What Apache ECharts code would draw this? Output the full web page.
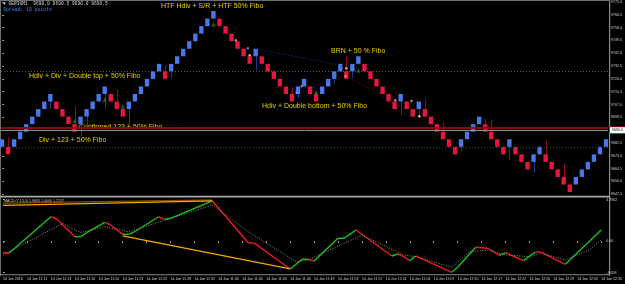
<!DOCTYPE html>
<html><head><meta charset="utf-8">
<script src="https://cdn.jsdelivr.net/npm/echarts@6/dist/echarts.min.js"></script>
<style>html,body{margin:0;padding:0;background:#000;}#c{width:625px;height:284px;}</style>
</head><body><div id="c"></div>
<script>
// ---- Renko bricks (open / close), one per bar index ----
const brickOpen = [9679,9679,9679,9684,9689,9694,9699,9704,9709,9709,9704,9699,9694,9694,9699,9704,9709,9714,9714,9709,
  9704,9704,9709,9714,9719,9724,9729,9729,9729,9734,9739,9744,9749,9754,9759,9764,9764,9759,9754,9749,
  9744,9739,9739,9739,9734,9729,9724,9719,9714,9714,9719,9719,9714,9714,9719,9724,9729,9729,9729,9734,
  9734,9729,9724,9719,9714,9709,9709,9709,9704,9704,9704,9699,9694,9689,9684,9679,9679,9684,9689,9694,
  9694,9689,9684,9679,9679,9679,9674,9669,9669,9674,9674,9669,9664,9659,9654,9654,9659,9664,9669,9674,9679];
const brickClose = [9684,9674,9684,9689,9694,9699,9704,9709,9714,9704,9699,9694,9689,9699,9704,9709,9714,9719,9709,9704,
  9699,9709,9714,9719,9724,9729,9734,9724,9734,9739,9744,9749,9754,9759,9764,9769,9759,9754,9749,9744,
  9739,9734,9744,9734,9729,9724,9719,9714,9709,9719,9724,9714,9709,9719,9724,9729,9734,9724,9734,9739,
  9729,9724,9719,9714,9709,9704,9714,9704,9699,9709,9699,9694,9689,9684,9679,9674,9684,9689,9694,9699,
  9689,9684,9679,9674,9684,9674,9669,9664,9674,9679,9669,9664,9659,9654,9649,9659,9664,9669,9674,9679,9684];
// wick extremes [barIndex, price]
const wickHigh = [[1,9685],[12,9706],[19,9717],[27,9733],[48,9718.5],[57,9739],[70,9711],[73,9695],[80,9698],[81,9697],[90,9683],[93,9668]];
const wickLow  = [[8,9704],[13,9686],[14,9693.5],[17,9705],[21,9694],[28,9724.5],[42,9730],[49,9711],[55,9721],[58,9725],[66,9700],[69,9698],[76,9676],[84,9670],[88,9662]];

// ---- horizontal levels ----
const levelDottedGray = 9729;
const levelRed = 9691.5;
const levelBid = 9690.0;
const levelDottedTeal = 9679;

// ---- trend lines on price [barIndex, price] ----
const trendBlue1 = [[42,9744],[56,9733]];
const trendBlue2 = [[49,9713],[55,9725]];
const trendRed = [[57,9726],[69,9699]];

// ---- small signal markers ----
const greenArrows = [[12,9697.6],[17,9711.6],[20,9707],[35,9761.6],[52,9716.5],[59,9731.1]];
const pinkDots = [[38.7,9749.6],[56.9,9725.8],[65.1,9709.9],[67.8,9709.3]];
const blueDots = [[40.7,9744.3],[48.8,9714.6],[49.6,9719.2]];
const yellowDots = [[41,9739.7],[57,9731.1],[69.1,9699.3]];

// ---- MACD main line vertices ----
const macdIdx = [0,1,8,9,12,13,14,17,18,20,21,22,26,27,28,35,41,42,48,50,51,52,56,57,59,65,66,67,68,69,75,76,79,81,83,84,87,89,90,94,100];
const macdVal = [-1.35,-1.42,2.80,2.54,0.50,0.50,0.96,2.16,1.85,0.77,0.77,1.07,2.80,2.50,2.62,4.62,-0.20,-0.25,-3.23,-2.11,-2.11,-2.31,0.31,0.31,1.27,-1.73,-1.50,-1.81,-2.27,-1.73,-3.61,-3.03,-0.73,-0.84,-1.65,-1.35,-2.27,-1.27,-1.30,-2.69,1.27];
// ---- MACD signal line vertices ----
const sigIdx = [0,10,13,17,21,26,35,41,49,51,60,67,69,75,78,81,84,88,90,94,98,100];
const sigVal = [-1.62,2.04,0.96,1.65,1.07,2.16,4.15,1.07,-2.39,-2.19,0.69,-1.62,-1.81,-3.03,-1.23,-1.04,-1.62,-1.81,-1.42,-2.19,-1.04,0.12];
// ---- divergence lines on MACD ----
const divTop = [[0,4.12],[35,4.62]];
const divTopShadow = [[0,4.38],[35,4.75]];
const divBottom = [[20,0.58],[48,-3.23]];

// ---- axis labels ----
const priceMin = 9647.5, priceMax = 9775.0, priceStep = 8.5;
const macdMin = -3.66, macdMax = 4.79;
const macdLabels = ['-3.658','0.00','4.7902'];
const timeLabels = ["14 Jan 2016","14 Jan 11:11","14 Jan 11:13","14 Jan 11:16","14 Jan 11:20","14 Jan 11:23","14 Jan 11:25","14 Jan 11:28","14 Jan 11:31","14 Jan 11:36","14 Jan 11:40","14 Jan 11:43","14 Jan 11:46","14 Jan 11:49","14 Jan 11:53","14 Jan 11:57","14 Jan 12:01","14 Jan 12:04","14 Jan 12:07","14 Jan 12:10","14 Jan 12:17","14 Jan 12:22","14 Jan 12:26","14 Jan 12:29","14 Jan 12:32","14 Jan 12:35"];
const timeStep = 4;

// ---- annotations ----
const notes = [
  ["HTF Hdiv + S/R + HTF 50% Fibo", 161, 6],
  ["Hdiv + Div + Double top + 50% Fibo", 29, 76],
  ["BRN + 50 % Fibo", 331, 51],
  ["Hdiv + Double bottom + 50% Fibo", 262, 106],
  ["Confirmed 123 + 50% Fibo", 79, 127],
  ["Div + 123 + 50% Fibo", 39, 140]
];

// ================= build =================
const xMin = -0.17, xMax = 100.33;
const brickData = brickOpen.map((o,i)=>[i,o,brickClose[i],Math.min(o,brickClose[i]),Math.max(o,brickClose[i])]);
wickLow.forEach(([i,v])=>{brickData[i][3]=v;});
wickHigh.forEach(([i,v])=>{brickData[i][4]=v;});

const macdSegs = [];
for (let k=0;k<macdIdx.length-1;k++) macdSegs.push([macdIdx[k],macdVal[k],macdIdx[k+1],macdVal[k+1]]);

const timeTicks = timeLabels.map((_,k)=>k*timeStep);
const FONT = 'Liberation Sans';

const chart = echarts.init(document.getElementById('c'), null, {renderer:'canvas'});
const option = {
  backgroundColor:'#000',
  animation:false,
  grid:[
    {left:1, right:16, top:1.7, height:192.6},
    {left:1, right:16, top:199.5, height:73.2}
  ],
  xAxis:[
    {type:'value', gridIndex:0, min:xMin, max:xMax, show:false},
    {type:'value', gridIndex:1, min:xMin, max:xMax,
      axisLine:{show:false}, splitLine:{show:false},
      axisTick:{show:true, customValues:timeTicks, length:2, lineStyle:{color:'#9a9a9a'}},
      axisLabel:{customValues:timeTicks, formatter:v=>timeLabels[Math.round(v/timeStep)], fontSize:3.6, color:'#d0d0d0', fontFamily:FONT, align:'left', margin:4, hideOverlap:false}}
  ],
  yAxis:[
    {type:'value', gridIndex:0, position:'right', min:priceMin, max:priceMax, interval:priceStep,
      axisLine:{show:false}, splitLine:{show:false},
      axisTick:{show:true, length:2, lineStyle:{color:'#9a9a9a'}},
      axisLabel:{fontSize:3.6, color:'#d0d0d0', fontFamily:FONT, margin:3, formatter:v=>v.toFixed(1)}},
    {type:'value', gridIndex:1, position:'right', min:macdMin, max:macdMax,
      axisLine:{show:false}, splitLine:{show:false},
      axisTick:{show:true, customValues:[macdMin,0,macdMax], length:2, lineStyle:{color:'#9a9a9a'}},
      axisLabel:{customValues:[macdMin,0,macdMax], fontSize:3.6, color:'#d0d0d0', fontFamily:FONT, margin:3,
        formatter:v=> v===0?macdLabels[1]:(v<0?macdLabels[0]:macdLabels[2])}}
  ],
  series:[
    {type:'line', xAxisIndex:0, yAxisIndex:0, data:[], silent:true,
      markLine:{symbol:'none', silent:true, label:{show:false}, data:[
        {yAxis:levelDottedGray, lineStyle:{color:'#5a5a5a', type:[1,2], width:1}},
        {yAxis:levelDottedTeal, lineStyle:{color:'#1f5548', type:[1,2], width:1}},
        {yAxis:levelRed, lineStyle:{color:'#8a0a0a', type:'solid', width:1.8}},
        {yAxis:levelBid, lineStyle:{color:'#8f8f8f', type:'solid', width:1},
          label:{show:true, position:'end', formatter:levelBid.toFixed(1), backgroundColor:'#ffffff', color:'#000', fontSize:3.6, fontFamily:FONT, padding:[1,2], borderColor:'#cc0000', borderWidth:0.6, distance:2}}
      ]}},
    {type:'line', xAxisIndex:0, yAxisIndex:0, data:trendBlue1, symbol:'none', lineStyle:{color:'#2233aa', type:[1,2], width:1}},
    {type:'line', xAxisIndex:0, yAxisIndex:0, data:trendBlue2, symbol:'none', lineStyle:{color:'#2233aa', type:[1,2], width:1}},
    {type:'line', xAxisIndex:0, yAxisIndex:0, data:trendRed, symbol:'none', lineStyle:{color:'#8c1010', type:[1,2], width:1}},
    {type:'custom', xAxisIndex:0, yAxisIndex:0, data:brickData, encode:{x:0, y:[1,2,3,4]}, clip:false,
      renderItem:(params, api)=>{
        const i=api.value(0), o=api.value(1), c=api.value(2), lo=api.value(3), hi=api.value(4);
        const up = c>o;
        const top = api.coord([i, Math.max(o,c)]);
        const bot = api.coord([i, Math.min(o,c)]);
        const pLo = api.coord([i, lo]);
        const pHi = api.coord([i, hi]);
        const w = api.size([1,0])[0]*0.72;
        const cx = Math.round(top[0])+0.5;
        const wc = up ? '#1d3a95' : '#8e0d20';
        const ch = [];
        if (pHi[1] < top[1]-0.5) ch.push({type:'line', shape:{x1:cx,y1:pHi[1],x2:cx,y2:top[1]}, style:{stroke:wc, lineWidth:1}});
        if (pLo[1] > bot[1]+0.5) ch.push({type:'line', shape:{x1:cx,y1:bot[1],x2:cx,y2:pLo[1]}, style:{stroke:wc, lineWidth:1}});
        ch.push({type:'rect', shape:{x:top[0]-w/2, y:top[1], width:w, height:bot[1]-top[1]}, style:{fill: up ? '#4a78ea' : '#e8163e'}});
        return {type:'group', children:ch};
      }},
    {type:'scatter', xAxisIndex:0, yAxisIndex:0, data:greenArrows, symbol:'arrow', symbolSize:[3,5], itemStyle:{color:'#169a16'}},
    {type:'scatter', xAxisIndex:0, yAxisIndex:0, data:pinkDots, symbolSize:2.5, itemStyle:{color:'#f2a0a0'}},
    {type:'scatter', xAxisIndex:0, yAxisIndex:0, data:blueDots, symbolSize:2.5, itemStyle:{color:'#7c95ff'}},
    {type:'scatter', xAxisIndex:0, yAxisIndex:0, data:yellowDots, symbolSize:2.5, itemStyle:{color:'#f2e2a0'}},
    // MACD panel
    {type:'line', xAxisIndex:1, yAxisIndex:1, data:sigIdx.map((x,k)=>[x,sigVal[k]]), symbol:'none', lineStyle:{color:'#8e8e8e', type:[1,1.5], width:1}},
    {type:'line', xAxisIndex:1, yAxisIndex:1, data:divTopShadow, symbol:'none', lineStyle:{color:'#7a5000', width:1.2}},
    {type:'line', xAxisIndex:1, yAxisIndex:1, data:divTop, symbol:'none', lineStyle:{color:'#f5a800', width:1.3}},
    {type:'line', xAxisIndex:1, yAxisIndex:1, data:divBottom, symbol:'none', lineStyle:{color:'#f5a800', width:1.3}},
    {type:'custom', xAxisIndex:1, yAxisIndex:1, data:macdSegs, encode:{x:[0,2], y:[1,3]}, clip:false,
      renderItem:(params, api)=>{
        const p1 = api.coord([api.value(0), api.value(1)]);
        const p2 = api.coord([api.value(2), api.value(3)]);
        const rising = api.value(3) >= api.value(1);
        return {type:'line', shape:{x1:p1[0],y1:p1[1],x2:p2[0],y2:p2[1]}, style:{stroke: rising ? '#19c319' : '#ee1a1a', lineWidth:1.4}};
      }}
  ],
  graphic:[
    {type:'rect', shape:{x:0,y:0,width:610,height:1}, style:{fill:'#6e6e6e'}, silent:true},
    {type:'rect', shape:{x:0,y:0,width:1,height:276}, style:{fill:'#6e6e6e'}, silent:true},
    {type:'rect', shape:{x:609,y:0,width:1.2,height:276}, style:{fill:'#8a8a8a'}, silent:true},
    {type:'rect', shape:{x:0,y:195.8,width:610,height:1.8}, style:{fill:'#a8a8a8'}, silent:true},
    {type:'rect', shape:{x:0,y:274.3,width:610,height:1}, style:{fill:'#8a8a8a'}, silent:true},
    {type:'text', left:3, top:1, style:{text:'▼ GER30M1  9690.0 9690.5 9690.0 9690.5', fill:'#d8d8d8', font:'4.6px "Liberation Mono"'}, silent:true},
    {type:'text', left:3, top:7.5, style:{text:'Spread: 10 points', fill:'#4f7cff', font:'4.8px "Liberation Mono"'}, silent:true},
    {type:'text', left:4, top:198.5, style:{text:'MACD (7,13,5) 1.9695 1.0000 1.2157', fill:'#d0d0d0', font:'3.6px "Liberation Sans"'}, silent:true}
  ].concat(notes.map(([t,x,y])=>({type:'text', x:x, y:y, silent:true,
      style:{text:t, fill:'#e8d000', font:'7px "Liberation Sans"', textVerticalAlign:'middle', verticalAlign:'middle'}})))
};
chart.setOption(option);
</script></body></html>
